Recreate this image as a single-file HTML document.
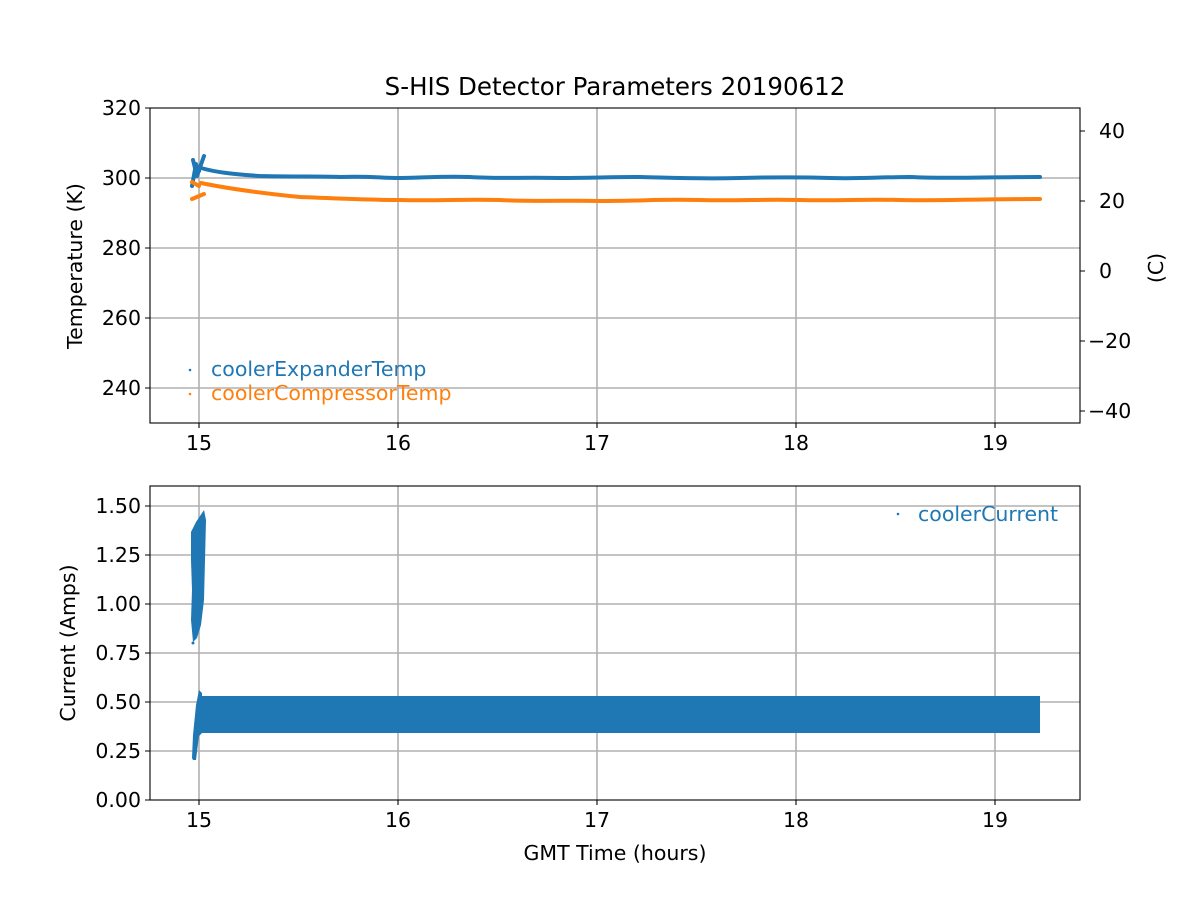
<!DOCTYPE html>
<html><head><meta charset="utf-8"><style>
body{margin:0;background:#fff}
svg text{font-family:"DejaVu Sans","Liberation Sans",sans-serif;fill:#000}
</style></head><body>
<svg width="1200" height="900" xmlns="http://www.w3.org/2000/svg">
<rect width="1200" height="900" fill="#fff"/>
<g stroke="#b0b0b0" stroke-width="1.6" fill="none">
<path d="M199 108V423M398 108V423M597 108V423M796 108V423M995 108V423"/>
<path d="M150 388H1080M150 318H1080M150 248H1080M150 178H1080"/>
<path d="M199 486V800M398 486V800M597 486V800M796 486V800M995 486V800"/>
<path d="M150 751H1080M150 702H1080M150 653H1080M150 604H1080M150 555H1080M150 506H1080"/>
</g>
<g fill="none" stroke-width="4" stroke-linecap="round" stroke-linejoin="round">
<path stroke="#1f77b4" d="M201 168 C215 172 230 174 260 176 C300 177 320 176 340 177 C370 176 380 178 400 178 C420 178 440 176 470 177 C500 179 520 177 560 178 C590 178 610 177 640 177 C680 178 700 179 740 178 C780 177 800 177 830 178 C860 179 880 177 910 177 C950 179 980 177 1040 177"/>
<path stroke="#ff7f0e" d="M201 183 C230 189 260 193 300 197 C330 198 360 200 400 200 C440 201 460 199 500 200 C540 202 570 200 600 201 C640 201 660 199 700 200 C740 201 760 199 800 200 C840 201 860 199 900 200 C940 201 970 199 1040 199"/>
<path stroke="#1f77b4" d="M192 186 L196 164 L199 171"/>
<path stroke="#1f77b4" d="M193 160 L197 176 L204 156"/>
<path stroke="#ff7f0e" d="M192 182 L199 186"/>
<path stroke="#ff7f0e" d="M192 199 L204 194"/>
</g>
<rect x="199" y="696" width="841" height="37" fill="#1f77b4"/>
<path d="M192 758 L193 735 L196 705 L199 690 L202 693 L202 733 L199 736 L196 760 L193 760 Z" fill="#1f77b4"/>
<path d="M191 532 L196 522 L200 516 L204 510 L206 520 L205 560 L204 600 L201 625 L197 638 L193 642 L191 620 L192 590 L191 560 Z" fill="#1f77b4"/>
<circle cx="193" cy="643" r="1.5" fill="#1f77b4"/>
<g stroke="#000" stroke-width="1.1" fill="none">
<rect x="150" y="108" width="930" height="315"/>
<rect x="150" y="486" width="930" height="314"/>
<path d="M199 423v5M398 423v5M597 423v5M796 423v5M995 423v5M150 388h-5M150 318h-5M150 248h-5M150 178h-5M150 108h-5M1080 131h5M1080 201h5M1080 271h5M1080 341h5M1080 411h5"/>
<path d="M199 800v5M398 800v5M597 800v5M796 800v5M995 800v5M150 800h-5M150 751h-5M150 702h-5M150 653h-5M150 604h-5M150 555h-5M150 506h-5"/>
</g>
<g font-size="20.5" text-anchor="end">
<text x="141" y="395">240</text><text x="141" y="325">260</text><text x="141" y="255">280</text><text x="141" y="185">300</text><text x="141" y="115">320</text>
<text x="141" y="807">0.00</text><text x="141" y="758">0.25</text><text x="141" y="709">0.50</text><text x="141" y="660">0.75</text><text x="141" y="611">1.00</text><text x="141" y="562">1.25</text><text x="141" y="513">1.50</text>
</g>
<g font-size="20.5" text-anchor="start">
<text x="1099" y="138">40</text><text x="1099" y="208">20</text><text x="1099" y="278">0</text><text x="1088" y="348">−20</text><text x="1088" y="418">−40</text>
</g>
<g font-size="20.5" text-anchor="middle">
<text x="199" y="450">15</text><text x="398" y="450">16</text><text x="597" y="450">17</text><text x="796" y="450">18</text><text x="995" y="450">19</text>
<text x="199" y="827">15</text><text x="398" y="827">16</text><text x="597" y="827">17</text><text x="796" y="827">18</text><text x="995" y="827">19</text>
<text x="615" y="95" font-size="24.5">S-HIS Detector Parameters 20190612</text>
<text x="615" y="860">GMT Time (hours)</text>
<text transform="translate(82 266) rotate(-90)">Temperature (K)</text>
<text transform="translate(75 643) rotate(-90)">Current (Amps)</text>
<text transform="translate(1163 268) rotate(-90)">(C)</text>
</g>
<g font-size="20.5">
<circle cx="190" cy="370" r="1.3" fill="#1f77b4"/><text x="211" y="376" style="fill:#1f77b4">coolerExpanderTemp</text>
<circle cx="190" cy="394" r="1.3" fill="#ff7f0e"/><text x="211" y="400" style="fill:#ff7f0e">coolerCompressorTemp</text>
<circle cx="898" cy="514" r="1.3" fill="#1f77b4"/><text x="918" y="521" style="fill:#1f77b4">coolerCurrent</text>
</g>
</svg>
</body></html>
